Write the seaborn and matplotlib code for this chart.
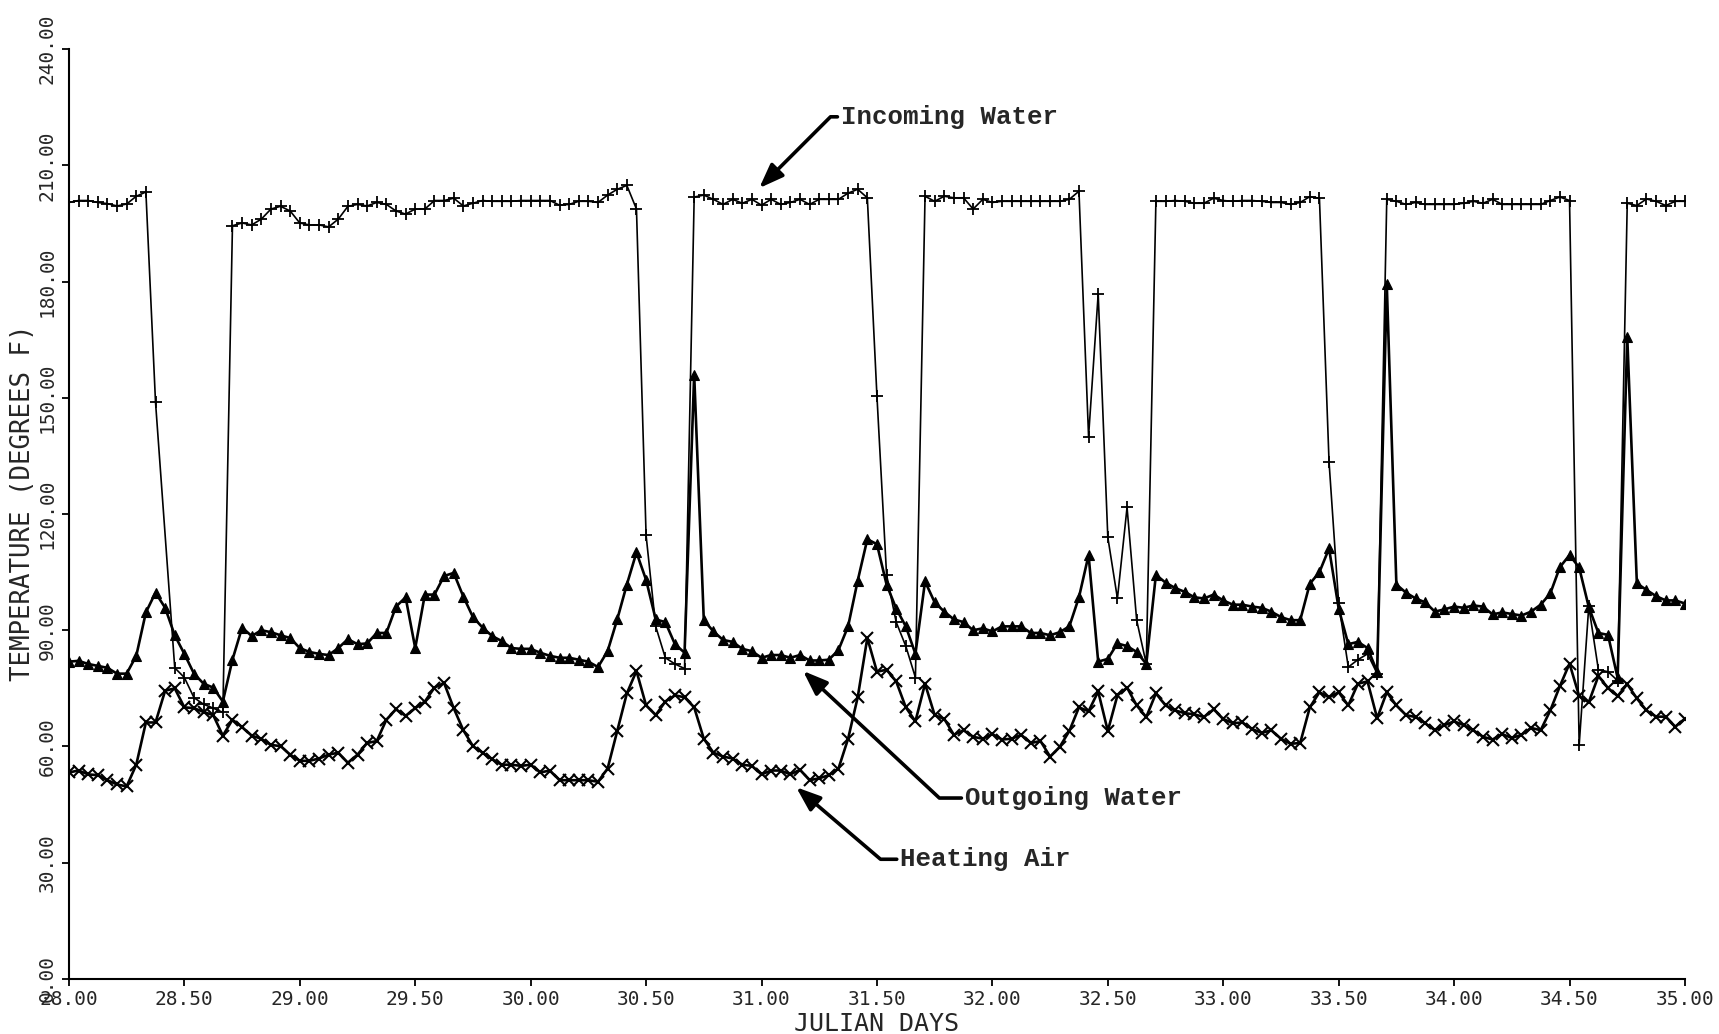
import numpy as np
import pandas as pd
import matplotlib
matplotlib.use("Agg")
import matplotlib.pyplot as plt
import seaborn as sns

# ---------------- data (hourly readings, Julian days 28.00 - 35.00) ----------------
# None = no reading recorded for that hour
incoming = [
    200.4, 200.9, 200.9, 200.4, 200.1, 199.5, 200.0, 202.0, 203.1, 148.9,
    None, 80.3, 77.8, 72.6, 70.9, 69.9, 68.8, 194.4, 195.1, 194.6,
    196.1, 198.7, 199.4, 198.2, 195.1, 194.6, 194.6, 194.1, 196.1, 199.4,
    199.9, 199.5, 200.4, 199.9, 198.2, 197.4, 198.7, 198.7, 200.9, 200.9,
    201.5, 199.5, 200.2, 200.9, 200.7, 200.7, 200.7, 200.9, 200.9, 200.9,
    200.9, 199.7, 199.9, 200.7, 200.7, 200.4, 202.3, 203.8, 204.8, 198.7,
    114.5, 91.0, 82.9, 81.3, 80.1, 201.8, 202.3, 201.2, 199.9, 201.2,
    200.2, 201.2, 199.7, 201.2, 199.9, 200.4, 201.2, 199.9, 201.2, 201.2,
    201.2, 202.8, 203.8, 201.6, 150.4, 104.3, 92.1, 85.9, 77.8, 202.0,
    200.7, 202.0, 201.6, 201.6, 198.7, 201.2, 200.4, 200.7, 200.7, 200.7,
    200.7, 200.7, 200.7, 200.7, 201.2, 203.3, 140.0, 176.8, 114.0, 98.2,
    121.7, 92.6, 81.3, 200.7, 200.7, 200.9, 200.7, 200.2, 200.2, 201.5,
    200.9, 200.7, 200.9, 200.9, 200.7, 200.4, 200.4, 199.9, 200.4, 201.9,
    201.5, 133.4, 97.0, 80.5, 82.4, 83.9, 78.8, 201.2, 200.7, 199.9,
    200.4, 199.9, 199.9, 199.9, 199.9, 200.2, 200.7, 200.2, 201.2, 199.9,
    199.9, 199.9, 199.9, 199.9, 200.9, 201.8, 200.9, 60.3, 96.2, 79.8,
    79.3, 77.0, 200.2, 199.6, 201.3, 200.7, 199.6, 200.7, 200.7]

outgoing = [
    81.9, 82.1, 81.3, 80.8, 80.3, 78.8, 78.8, 83.4, 94.6, 99.7,
    95.8, 88.7, 83.9, 78.8, 76.2, 75.2, 71.6, 82.4, 90.7, 88.5,
    90.0, 89.5, 88.7, 88.0, 85.4, 84.4, 83.9, 83.6, 85.4, 87.7,
    86.4, 86.6, 89.3, 89.3, 96.1, 98.5, 85.4, 99.2, 99.2, 104.0,
    104.8, 98.7, 93.4, 90.7, 88.5, 87.2, 85.4, 85.2, 85.2, 84.2,
    83.4, 82.9, 82.9, 82.4, 81.9, 80.5, 84.6, 92.8, 101.8, 110.1,
    103.0, 92.8, 92.1, 86.4, 84.2, 156.0, 92.6, 89.7, 87.5, 87.0,
    85.2, 84.6, 82.9, 83.6, 83.6, 82.9, 83.6, 82.2, 82.2, 82.4,
    84.9, 91.0, 102.8, 113.5, 112.2, 101.8, 95.6, 91.0, 83.9, 102.6,
    97.2, 94.8, 92.8, 92.1, 90.0, 90.5, 89.7, 91.0, 91.0, 91.0,
    89.3, 89.3, 88.7, 89.5, 91.0, 98.5, 109.4, 81.9, 82.6, 86.6,
    85.9, 84.4, 81.3, 104.3, 102.3, 100.9, 99.9, 98.5, 98.2, 99.2,
    97.7, 96.6, 96.6, 96.1, 95.8, 94.8, 93.4, 92.6, 92.6, 102.0,
    105.0, 111.1, 95.6, 86.4, 87.0, 85.4, 79.3, 179.3, 101.8, 99.7,
    98.2, 97.2, 94.8, 95.4, 96.1, 95.8, 96.4, 96.1, 94.1, 94.6,
    94.2, 93.8, 94.8, 96.6, 99.5, 106.3, 109.4, 106.2, 96.0, 89.3,
    88.8, 77.7, 165.7, 102.1, 100.4, 98.8, 97.7, 97.7, 96.9]

heating = [
    53.3, 53.8, 52.8, 52.6, 51.3, 50.2, 49.7, 55.3, 66.2, 66.2,
    74.4, 75.0, 70.1, 69.9, 68.9, 68.1, 62.8, 66.9, 65.0, 62.8,
    62.0, 60.4, 60.1, 57.9, 56.3, 56.3, 56.9, 57.9, 58.4, 55.8,
    57.9, 60.9, 61.4, 66.9, 69.6, 67.9, 69.9, 71.6, 75.2, 76.4,
    69.9, 64.2, 60.1, 58.4, 56.7, 55.3, 55.3, 55.0, 55.3, 53.3,
    53.8, 51.3, 51.3, 51.3, 51.3, 50.9, 54.3, 64.0, 73.7, 79.5,
    70.6, 68.1, 71.6, 73.2, 72.7, 70.1, 62.0, 58.4, 57.4, 56.9,
    55.3, 55.0, 52.8, 53.8, 53.8, 52.8, 54.0, 51.3, 51.8, 52.6,
    54.3, 62.0, 72.7, 88.0, 79.3, 79.8, 76.8, 70.1, 66.5, 76.2,
    68.1, 67.1, 63.0, 64.2, 62.5, 62.0, 63.2, 61.8, 62.0, 63.0,
    60.9, 61.4, 57.4, 59.9, 64.0, 70.1, 69.1, 74.2, 64.0, 73.2,
    75.2, 70.6, 67.6, 73.7, 70.6, 69.3, 68.6, 68.3, 67.6, 69.6,
    67.1, 66.0, 66.2, 64.5, 63.5, 64.2, 62.0, 60.7, 60.9, 70.1,
    74.0, 72.7, 74.0, 70.6, 76.2, 76.8, 67.3, 74.0, 70.6, 68.1,
    67.6, 66.0, 64.2, 65.5, 66.5, 65.5, 64.2, 62.5, 61.8, 63.2,
    62.2, 63.0, 64.8, 64.2, 69.3, 75.6, 81.4, 73.0, 71.4, 78.2,
    75.1, 73.0, 76.1, 72.4, 69.3, 67.7, 67.7, 65.1, 67.2]

start_day = 28.0
hours = np.arange(len(incoming))
julian_day = start_day + hours / 24.0

x_ticks = [28.0, 28.5, 29.0, 29.5, 30.0, 30.5, 31.0, 31.5, 32.0, 32.5, 33.0, 33.5, 34.0, 34.5, 35.0]
y_ticks = [0, 30, 60, 90, 120, 150, 180, 210, 240]

df = pd.DataFrame({"day": julian_day,
                   "incoming": pd.Series(incoming, dtype="float"),
                   "outgoing": outgoing, "heating": heating})

# ---------------- figure ----------------
sns.set_style("ticks")
plt.rcParams["font.family"] = ["DejaVu Sans Mono"]

fig = plt.figure(figsize=(17.19, 10.34), dpi=100)
ax = fig.add_axes([0.0401, 0.0532, 0.9401, 0.8994])

common = dict(ax=ax, color="black", sort=False, estimator=None,
              markeredgecolor="black")
sns.lineplot(data=df.dropna(subset=["incoming"]), x="day", y="incoming", lw=1.2,
             marker="+", markersize=9, markeredgewidth=1.3, **common)
sns.lineplot(data=df, x="day", y="outgoing", lw=1.9, marker="^",
             markersize=7, markeredgewidth=0.8, markerfacecolor="black", **common)
sns.lineplot(data=df, x="day", y="heating", lw=1.9, marker="x",
             markersize=8, markeredgewidth=1.5, **common)

ax.set_xlim(28, 35)
ax.set_ylim(0, 240)
ax.set_xticks(x_ticks)
ax.set_xticklabels([f"{v:.2f}" for v in x_ticks], fontsize=14)
ax.set_yticks(y_ticks)
ax.set_yticklabels([f"{v:.2f}" for v in y_ticks], fontsize=14,
                   rotation=90, va="center")
ax.tick_params(axis="both", direction="out", length=5, width=1.3, color="black")
ax.tick_params(axis="x", pad=3)
ax.tick_params(axis="y", pad=4)
sns.despine(ax=ax)
for s in ("left", "bottom"):
    ax.spines[s].set_linewidth(1.5)
    ax.spines[s].set_color("black")

ax.set_xlabel("JULIAN DAYS", fontsize=18, va="center")
ax.xaxis.set_label_coords(0.5, -0.048)
ax.set_ylabel("TEMPERATURE (DEGREES F)", fontsize=18.5, va="center")
ax.yaxis.set_label_coords(-0.0285, 0.512)

# ---------------- annotations ----------------
def note(text, xy, xytext, angle_b):
    ax.annotate(text, xy=xy, xytext=xytext, ha="left", va="center",
                family=["Liberation Mono", "DejaVu Sans Mono"], size=18.5,
                weight="bold",
                arrowprops=dict(arrowstyle="-|>,head_length=0.8,head_width=0.3",
                                color="black", lw=2.6, relpos=(0, 0.5),
                                shrinkA=0, shrinkB=0,
                                connectionstyle=f"angle,angleA=0,angleB={angle_b},rad=0"))

note("Incoming Water", (30.99, 204.1), (31.343, 222.5), 45)
note("Outgoing Water", (31.18, 79.5), (31.88, 46.7), -43)
note("Heating Air", (31.15, 49.5), (31.60, 30.9), -40.5)

fig.savefig("out.png", dpi=100)
